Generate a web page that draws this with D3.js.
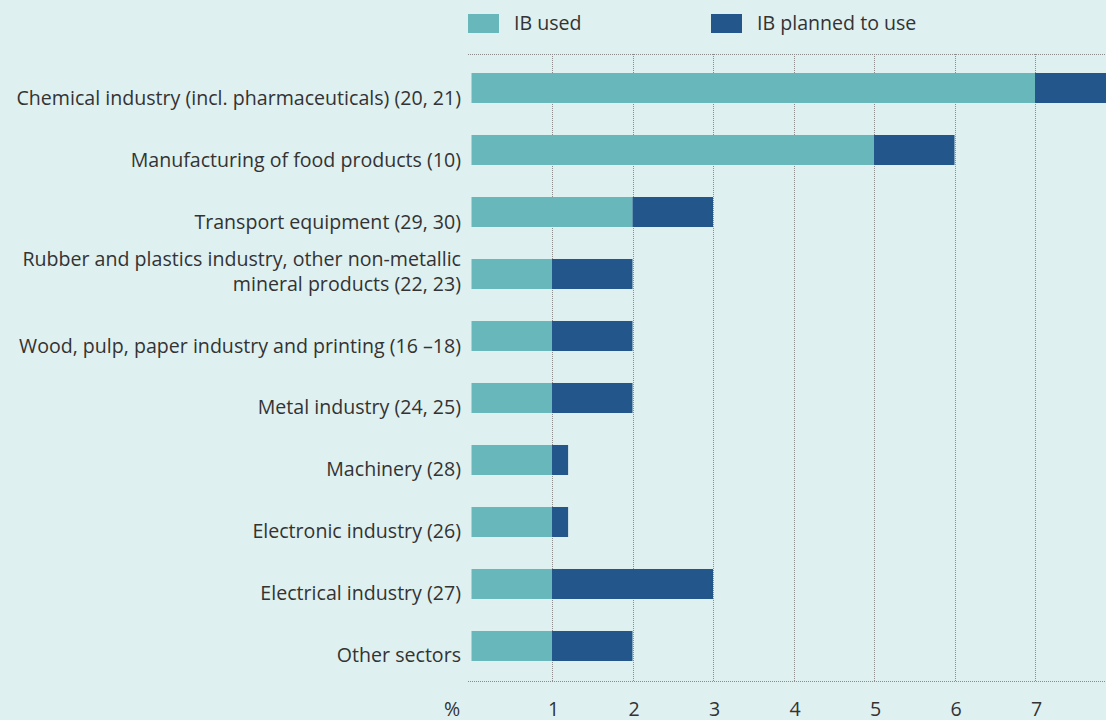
<!DOCTYPE html>
<html>
<head>
<meta charset="utf-8">
<script src="https://cdn.jsdelivr.net/npm/d3@7"></script>
<style>
  body { margin: 0; background: #dff0f0; }
  svg { display: block; }
  text { font-family: "Open Sans", "Noto Sans", sans-serif; fill: #333; }
</style>
</head>
<body>
<div id="chart"></div>
<script>
// sectors, top to bottom
var categories = [
    ['Chemical industry (incl. pharmaceuticals) (20, 21)'],
    ['Manufacturing of food products (10)'],
    ['Transport equipment (29, 30)'],
    ['Rubber and plastics industry, other non-metallic', 'mineral products (22, 23)'],
    ['Wood, pulp, paper industry and printing (16 \u201318)'],
    ['Metal industry (24, 25)'],
    ['Machinery (28)'],
    ['Electronic industry (26)'],
    ['Electrical industry (27)'],
    ['Other sectors']
];
var used    = [7, 5, 2, 1, 1, 1, 1, 1, 1, 1];
var planned = [1, 1, 1, 1, 1, 1, 0.2, 0.2, 2, 1];
var ticks = [1, 2, 3, 4, 5, 6, 7];
var seriesNames = ['IB used', 'IB planned to use'];
var seriesColors = ['#68b8bb', '#23568b'];

var width = 1106, height = 720;
var plotLeft = 471.5, plotTop = 54, plotBottom = 681;

var svg = d3.select('#chart').append('svg')
    .attr('width', width)
    .attr('height', height)
    .style('background', '#dff0f0');

var xScale = d3.scaleLinear()
    .domain([0, 8])
    .range([plotLeft, plotLeft + 8 * 80.5]);

var yScale = d3.scaleBand()
    .domain(d3.range(categories.length))
    .range([42, 692])
    .paddingInner(0.516)
    .paddingOuter(0.5);

// grid
svg.append('g').selectAll('line').data(ticks)
    .enter().append('line')
        .attr('x1', function(d) { return Math.round(xScale(d)) + 0.5; })
        .attr('x2', function(d) { return Math.round(xScale(d)) + 0.5; })
        .attr('y1', plotTop)
        .attr('y2', plotBottom)
        .attr('stroke', '#8c8c8c')
        .attr('stroke-dasharray', '1,1');

[plotTop, plotBottom].forEach(function(y) {
    svg.append('line')
        .attr('x1', 468).attr('x2', width)
        .attr('y1', y + 0.5).attr('y2', y + 0.5)
        .attr('stroke', '#8c8c8c')
        .attr('stroke-dasharray', '1,1');
});

// bars
var rows = svg.append('g').selectAll('g').data(categories)
    .enter().append('g');

rows.append('rect')
    .attr('x', xScale(0))
    .attr('y', function(d, i) { return yScale(i); })
    .attr('height', yScale.bandwidth())
    .attr('width', function(d, i) { return xScale(used[i]) - xScale(0); })
    .style('fill', seriesColors[0]);

rows.append('rect')
    .attr('x', function(d, i) { return xScale(used[i]); })
    .attr('y', function(d, i) { return yScale(i); })
    .attr('height', yScale.bandwidth())
    .attr('width', function(d, i) { return xScale(used[i] + planned[i]) - xScale(used[i]); })
    .style('fill', seriesColors[1]);

// category labels (baseline of the last line sits a bit below the bar centre)
rows.append('text')
    .attr('text-anchor', 'end')
    .style('font-size', '19.6px')
    .each(function(d, i) {
        var cy = yScale(i) + yScale.bandwidth() / 2;
        var lh = 25;
        var yLast = cy + 16.5;
        var t = d3.select(this);
        d.forEach(function(line, j) {
            t.append('tspan')
                .attr('x', 461)
                .attr('y', yLast - (d.length - 1 - j) * lh)
                .text(line);
        });
    });

// x axis labels
svg.append('g').selectAll('text').data(ticks)
    .enter().append('text')
        .attr('x', function(d) { return xScale(d) + 1.5; })
        .attr('y', 716)
        .attr('text-anchor', 'middle')
        .style('font-size', '19.6px')
        .text(function(d) { return d; });

svg.append('text')
    .attr('x', 452)
    .attr('y', 716)
    .attr('text-anchor', 'middle')
    .style('font-size', '19.6px')
    .text('%');

// legend
var legendX = [468, 711];
var legend = svg.append('g').selectAll('g').data(seriesNames)
    .enter().append('g')
        .attr('transform', function(d, i) { return 'translate(' + legendX[i] + ',14)'; });

legend.append('rect')
    .attr('width', 31)
    .attr('height', 19)
    .style('fill', function(d, i) { return seriesColors[i]; });

legend.append('text')
    .attr('x', 46)
    .attr('y', 9.5)
    .attr('dy', '0.35em')
    .style('font-size', '19.6px')
    .text(function(d) { return d; });
</script>
</body>
</html>
